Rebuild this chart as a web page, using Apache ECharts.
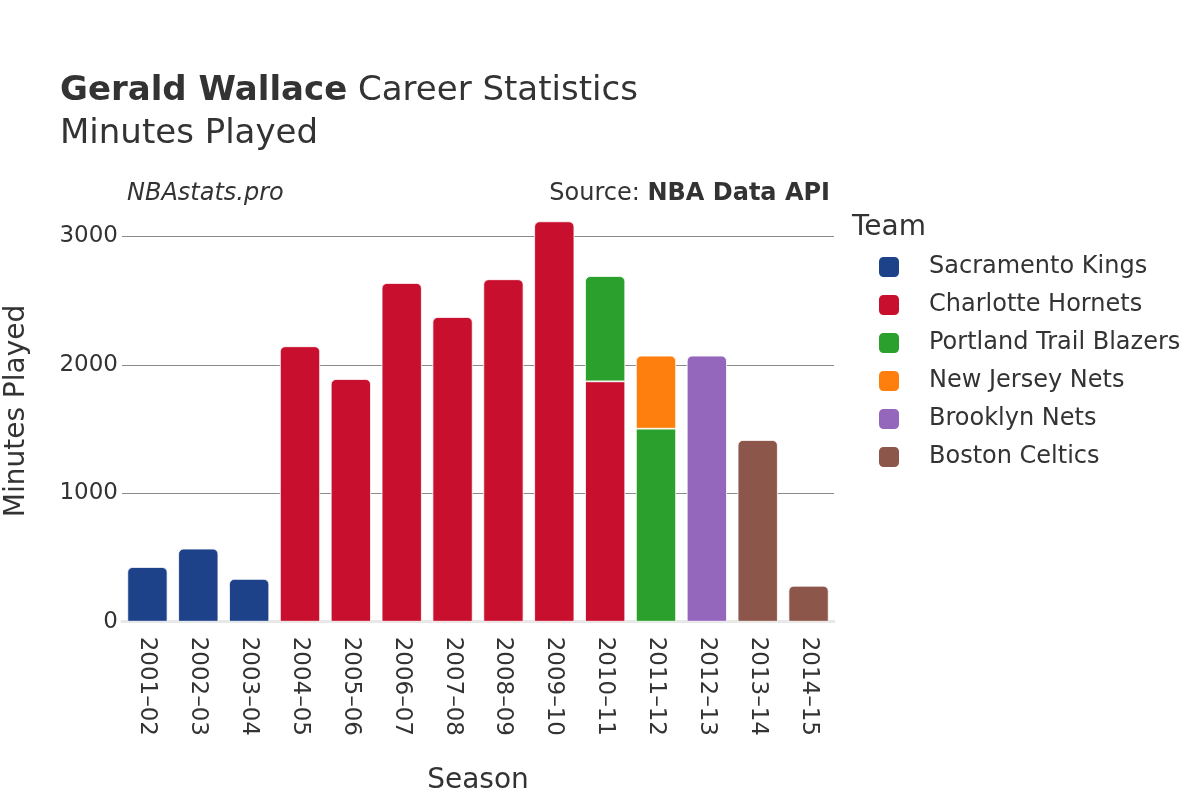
<!DOCTYPE html>
<html>
<head>
<meta charset="utf-8">
<script src="https://cdn.jsdelivr.net/npm/echarts@6/dist/echarts.min.js"></script>
<style>html,body{margin:0;padding:0;background:#fff}#c{width:1200px;height:800px}</style>
</head>
<body>
<div id="c"></div>
<script>
const seasons = ['2001–02','2002–03','2003–04','2004–05','2005–06','2006–07','2007–08','2008–09','2009–10','2010–11','2011–12','2012–13','2013–14','2014–15'];
const teams = ['Sacramento Kings','Charlotte Hornets','Portland Trail Blazers','New Jersey Nets','Brooklyn Nets','Boston Celtics'];
const teamColors = ['#1d428a','#c8102e','#2ca02c','#ff7f0e','#9467bd','#8c564b'];
const sacramento = [426,569,333,null,null,null,null,null,null,null,null,null,null,null];
const charlotte  = [null,null,null,2145,1890,2638,2373,2667,3118,1872,null,null,null,null];
const portland   = [null,null,null,null,null,null,null,null,null,820,1503,null,null,null];
const newJersey  = [null,null,null,null,null,null,null,null,null,null,569,null,null,null];
const brooklyn   = [null,null,null,null,null,null,null,null,null,null,null,2072,null,null];
const boston     = [null,null,null,null,null,null,null,null,null,null,null,null,1415,280];
const yTicks = [0,1000,2000,3000];

const allData = [sacramento,charlotte,portland,newJersey,brooklyn,boston];
const FONT = 'DejaVu Sans';
const TXT = '#333';

const series = allData.map((arr, si) => ({
  name: teams[si],
  type: 'bar',
  stack: 'total',
  clip: false,
  barCategoryGap: '21%',
  itemStyle: { color: teamColors[si], borderColor: '#fff', borderWidth: 0.8 },
  data: arr.map((v, ci) => {
    if (v == null) return null;
    const isTop = !allData.slice(si + 1).some(a => a[ci] != null);
    return { value: v, itemStyle: { borderRadius: isTop ? [5,5,0,0] : 0 } };
  })
}));

const chart = echarts.init(document.getElementById('c'), null, { renderer: 'canvas' });
chart.setOption({
  animation: false,
  backgroundColor: '#fff',
  textStyle: { fontFamily: FONT },
  grid: { left: 122, right: 366, top: 236.5, bottom: 178.3, containLabel: false },
  title: [
    { text: '{b|Gerald Wallace} Career Statistics', left: 60, top: 74, padding: 0,
      textStyle: { fontFamily: FONT, fontSize: 34, fontWeight: 'normal', color: TXT,
        rich: { b: { fontFamily: FONT, fontSize: 34, fontWeight: 'bold', color: TXT } } } },
    { text: 'Minutes Played', left: 60, top: 117, padding: 0,
      textStyle: { fontFamily: FONT, fontSize: 34, fontWeight: 'normal', color: TXT } },
    { text: 'NBAstats.pro', left: 127, top: 182, padding: 0,
      textStyle: { fontFamily: FONT, fontSize: 24, fontStyle: 'italic', fontWeight: 'normal', color: TXT } },
    { text: 'Source: {b|NBA Data API}', right: 370, top: 182, padding: 0,
      textStyle: { fontFamily: FONT, fontSize: 24, fontWeight: 'normal', color: TXT,
        rich: { b: { fontFamily: FONT, fontSize: 24, fontWeight: 'bold', color: TXT } } } },
    { text: 'Team', left: 852, top: 214, padding: 0,
      textStyle: { fontFamily: FONT, fontSize: 28, fontWeight: 'normal', color: TXT } }
  ],
  graphic: [
    { type: 'text', x: 17, y: 411, rotation: Math.PI / 2,
      style: { text: 'Minutes Played', fontFamily: FONT, fontSize: 28, fill: TXT, align: 'center', verticalAlign: 'middle' } }
  ],
  legend: {
    orient: 'vertical', left: 877, top: 255, padding: 0,
    itemWidth: 22, itemHeight: 22, itemGap: 14,
    icon: 'roundRect',
    data: teams,
    textStyle: { fontFamily: FONT, fontSize: 24, lineHeight: 22, color: TXT, padding: [0,0,0,24] }
  },
  xAxis: {
    type: 'category', data: seasons,
    name: 'Season', nameLocation: 'middle', nameGap: 145,
    nameTextStyle: { fontFamily: FONT, fontSize: 28, color: TXT },
    axisLine: { show: true, lineStyle: { color: '#e8e8e8', width: 3 } },
    axisTick: { show: false },
    axisLabel: { rotate: -90, margin: 15, fontFamily: FONT, fontSize: 23, color: TXT, interval: 0 }
  },
  yAxis: {
    type: 'value', min: 0, max: 3000, interval: 1000,
    axisLine: { show: false }, axisTick: { show: false },
    axisLabel: { fontFamily: FONT, fontSize: 23, color: TXT, margin: 4,
      formatter: v => yTicks.includes(v) ? String(v) : '' },
    splitLine: { lineStyle: { color: '#8a8a8a', width: 1 } }
  },
  series: series
});
</script>
</body>
</html>
